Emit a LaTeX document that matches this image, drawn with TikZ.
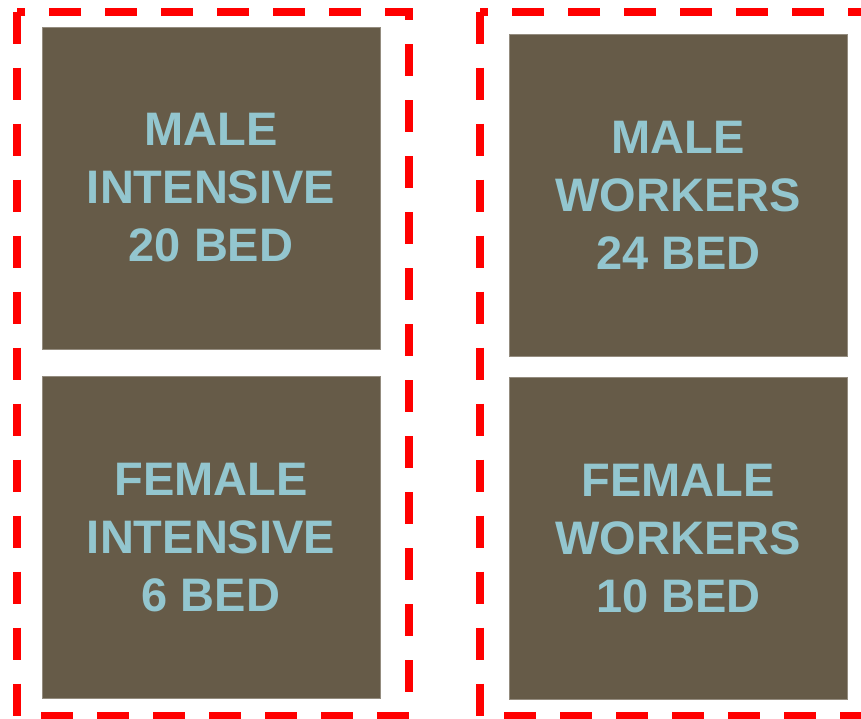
\documentclass[tikz,border=0pt]{standalone}
\usepackage{fontspec}
\setmainfont{Liberation Sans}
\usetikzlibrary{positioning}
\definecolor{bedbrown}{HTML}{665B48}
\definecolor{bedtext}{HTML}{93C6CF}
\definecolor{zonered}{HTML}{FF0000}

\begin{document}
\begin{tikzpicture}[
  x=1pt,y=-1pt,
  ward/.style={fill=bedbrown,draw=bedbrown!70!white,line width=0.6pt,
               minimum width=338pt,minimum height=322pt,inner sep=0pt,
               align=center,text=bedtext,
               font=\fontsize{47}{58}\selectfont\bfseries},
  zone/.style={draw=zonered,line width=8pt,dash pattern=on 32pt off 24pt}
]
  \useasboundingbox (0,0) rectangle (861,718);
  % intensive wing
  \node[ward] (mi) at (211,188) {MALE\\INTENSIVE\\20 BED};
  \node[ward,below=27pt of mi] (fi) {FEMALE\\INTENSIVE\\6 BED};
  % workers wing
  \node[ward] (mw) at (678.3,195) {MALE\\WORKERS\\24 BED};
  \node[ward,below=21pt of mw] (fw) {FEMALE\\WORKERS\\10 BED};
  % dashed zones
  \draw[zone] (17,11.5) -- (17,715.5) -- (409,715.5) -- (409,11.5) -- cycle;
  \draw[zone] (480,11.5) -- (480,715.5) -- (900,715.5) -- (900,11.5) -- cycle;
\end{tikzpicture}
\end{document}
